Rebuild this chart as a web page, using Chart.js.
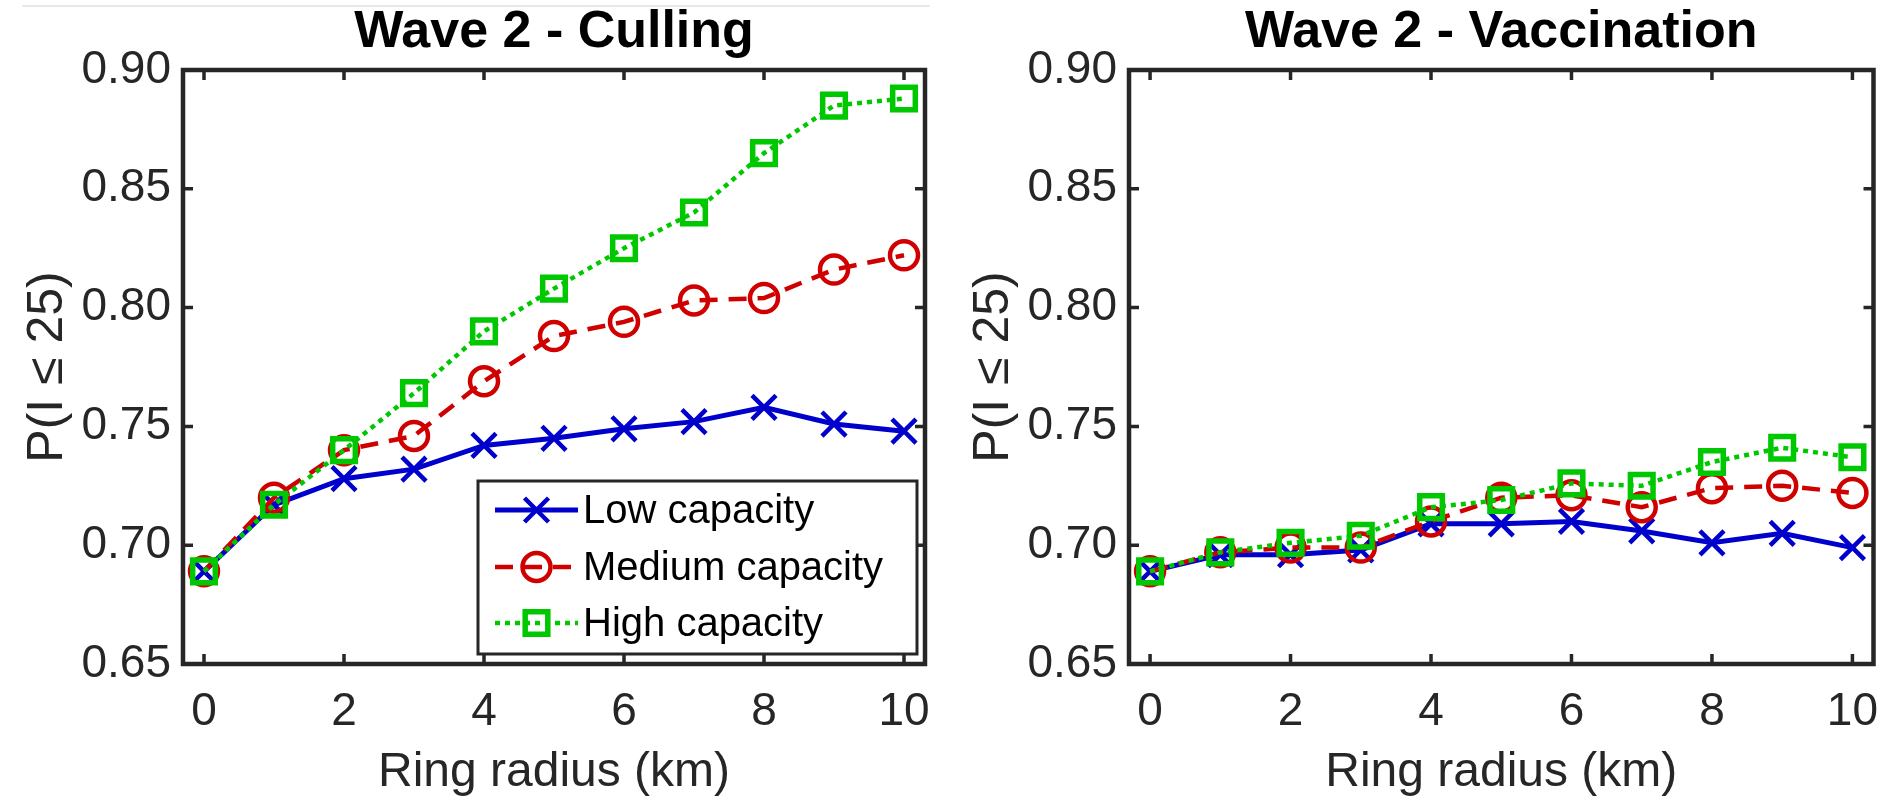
<!DOCTYPE html>
<html><head><meta charset="utf-8">
<script src="https://cdn.jsdelivr.net/npm/chart.js@4.4.0/dist/chart.umd.min.js"></script>
<style>
html,body{margin:0;padding:0;background:#fff;}
body{width:1895px;height:802px;position:relative;overflow:hidden;}
canvas{position:absolute;top:0;}
#topline{position:absolute;left:22px;top:5px;width:908px;height:2px;background:#e8e8e8;}
</style></head><body>
<div id="topline"></div>
<canvas id="c1" width="947" height="802" style="left:0px"></canvas>
<canvas id="c2" width="949" height="802" style="left:946px"></canvas>
<script>
// ---- data ----
const radius = [0, 1, 2, 3, 4, 5, 6, 7, 8, 9, 10];
const seriesNames = ['Low capacity', 'Medium capacity', 'High capacity'];
const cullLow  = [0.689, 0.717, 0.728, 0.732, 0.742, 0.745, 0.749, 0.752, 0.758, 0.751, 0.748];
const cullMed  = [0.689, 0.720, 0.740, 0.746, 0.769, 0.788, 0.794, 0.803, 0.804, 0.816, 0.822];
const cullHigh = [0.689, 0.717, 0.740, 0.764, 0.790, 0.808, 0.825, 0.840, 0.865, 0.885, 0.888];
const vaccLow  = [0.689, 0.696, 0.696, 0.698, 0.709, 0.709, 0.710, 0.706, 0.701, 0.705, 0.699];
const vaccMed  = [0.689, 0.697, 0.699, 0.699, 0.710, 0.720, 0.721, 0.716, 0.724, 0.725, 0.722];
const vaccHigh = [0.689, 0.697, 0.701, 0.704, 0.716, 0.719, 0.726, 0.725, 0.735, 0.741, 0.737];
const xTickValues = [0, 2, 4, 6, 8, 10];
const yTickValues = [0.65, 0.70, 0.75, 0.80, 0.85, 0.90];
const panelTitles = ['Wave 2 - Culling', 'Wave 2 - Vaccination'];
const xLabel = 'Ring radius (km)';
const yLabel = 'P(I \u2264 25)';

// ---- styles ----
const FONT = "'Liberation Sans', Arial, Helvetica, sans-serif";
const AXIS = '#262626';
const styles = [
  {color: '#0000cd', dash: [], width: 5, pointStyle: 'crossRot', r: 17, pbw: 4.5, order: 2},
  {color: '#d00000', dash: [18, 11], width: 4.5, pointStyle: 'circle', r: 14, pbw: 4.5, order: 1},
  {color: '#00c800', dash: [5, 5], width: 4.5, pointStyle: 'rect', r: 16, pbw: 5.5, order: 0}
];

function makeDatasets(arrs) {
  return arrs.map((vals, i) => {
    const s = styles[i];
    return {
      label: seriesNames[i],
      data: radius.map((x, j) => ({x: x, y: vals[j]})),
      borderColor: s.color, backgroundColor: 'transparent',
      borderWidth: s.width, borderDash: s.dash, borderCapStyle: 'butt',
      pointStyle: s.pointStyle, pointRadius: s.r, pointBorderWidth: s.pbw,
      pointBorderColor: s.color, pointBackgroundColor: 'rgba(0,0,0,0)',
      tension: 0, order: s.order, clip: false
    };
  });
}

const framePlugin = {
  id: 'frame',
  beforeDatasetsDraw(chart) {
    const {ctx, chartArea: {left, right, top, bottom}} = chart;
    const xs = chart.scales.x, ys = chart.scales.y;
    ctx.save();
    ctx.strokeStyle = AXIS;
    ctx.lineWidth = 3.5;
    const TL = 10;
    ctx.beginPath();
    xs.ticks.forEach(t => {
      const p = xs.getPixelForValue(t.value);
      ctx.moveTo(p, bottom); ctx.lineTo(p, bottom - TL);
      ctx.moveTo(p, top); ctx.lineTo(p, top + TL);
    });
    ys.ticks.forEach(t => {
      const p = ys.getPixelForValue(t.value);
      ctx.moveTo(left, p); ctx.lineTo(left + TL, p);
      ctx.moveTo(right, p); ctx.lineTo(right - TL, p);
    });
    ctx.stroke();
    ctx.lineWidth = 4.5;
    ctx.strokeRect(left, top, right - left, bottom - top);
    // title
    ctx.fillStyle = '#000';
    ctx.font = 'bold 52px ' + FONT;
    ctx.textAlign = 'center';
    ctx.textBaseline = 'alphabetic';
    ctx.fillText(chart.options.plugins.frame.title, (left + right) / 2, 47);
    ctx.restore();
  },
  afterDatasetsDraw(chart) {
    const o = chart.options.plugins.frame;
    if (!o.legend) return;
    const {ctx} = chart;
    const bx = 478, by = 481, bw = 439, bh = 173;
    ctx.save();
    ctx.fillStyle = '#fff';
    ctx.fillRect(bx, by, bw, bh);
    ctx.strokeStyle = AXIS;
    ctx.lineWidth = 3;
    ctx.strokeRect(bx, by, bw, bh);
    const rowsY = [510, 567, 623];
    chart.data.datasets.forEach((ds, i) => {
      const y = rowsY[i];
      const x0 = bx + 17, x1 = bx + 100;
      ctx.save();
      ctx.strokeStyle = ds.borderColor;
      ctx.lineWidth = ds.borderWidth;
      ctx.setLineDash(ds.borderDash);
      ctx.beginPath(); ctx.moveTo(x0, y); ctx.lineTo(x1, y); ctx.stroke();
      ctx.restore();
      ctx.save();
      ctx.strokeStyle = ds.pointBorderColor;
      ctx.fillStyle = 'rgba(0,0,0,0)';
      ctx.lineWidth = ds.pointBorderWidth;
      Chart.helpers.drawPoint(ctx, {pointStyle: ds.pointStyle, radius: ds.pointRadius, borderWidth: ds.pointBorderWidth, rotation: 0}, (x0 + x1) / 2, y);
      ctx.restore();
      ctx.fillStyle = '#000';
      ctx.font = '40px ' + FONT;
      ctx.textAlign = 'left';
      ctx.textBaseline = 'middle';
      ctx.fillText(ds.label, x1 + 5, y + 2);
    });
    ctx.restore();
  }
};

function makeChart(id, arrs, title, rightPad, legend) {
  return new Chart(document.getElementById(id), {
    type: 'line',
    data: {datasets: makeDatasets(arrs)},
    plugins: [framePlugin],
    options: {
      responsive: false, animation: false, devicePixelRatio: 1,
      layout: {padding: {top: 70, right: rightPad, left: 0, bottom: 0}},
      plugins: {legend: {display: false}, tooltip: {enabled: false}, frame: {title: title, legend: legend}},
      scales: {
        x: {
          type: 'linear', min: -0.3, max: 10.3,
          afterBuildTicks: s => { s.ticks = xTickValues.map(v => ({value: v})); },
          afterFit: s => { s.height = 138; s.paddingLeft = 0; s.paddingRight = 0; },
          grid: {display: false, drawTicks: false},
          border: {display: false},
          ticks: {padding: 21, color: AXIS, font: {family: FONT, size: 46}, maxRotation: 0, autoSkip: false},
          title: {display: true, text: xLabel, color: AXIS, font: {family: FONT, size: 48}, padding: {top: 0, bottom: 0}}
        },
        y: {
          type: 'linear', min: 0.65, max: 0.90,
          afterBuildTicks: s => { s.ticks = yTickValues.map(v => ({value: v})); },
          afterFit: s => { s.width = 183; s.paddingTop = 0; s.paddingBottom = 0; },
          grid: {display: false, drawTicks: false},
          border: {display: false},
          ticks: {padding: 12, color: AXIS, font: {family: FONT, size: 46}, autoSkip: false,
                  callback: v => Number(v).toFixed(2)},
          title: {display: true, text: yLabel, color: AXIS, font: {family: FONT, size: 50}, padding: {top: 18, bottom: 0}}
        }
      }
    }
  });
}

makeChart('c1', [cullLow, cullMed, cullHigh], panelTitles[0], 22, true);
makeChart('c2', [vaccLow, vaccMed, vaccHigh], panelTitles[1], 21, false);
</script>
</body></html>
